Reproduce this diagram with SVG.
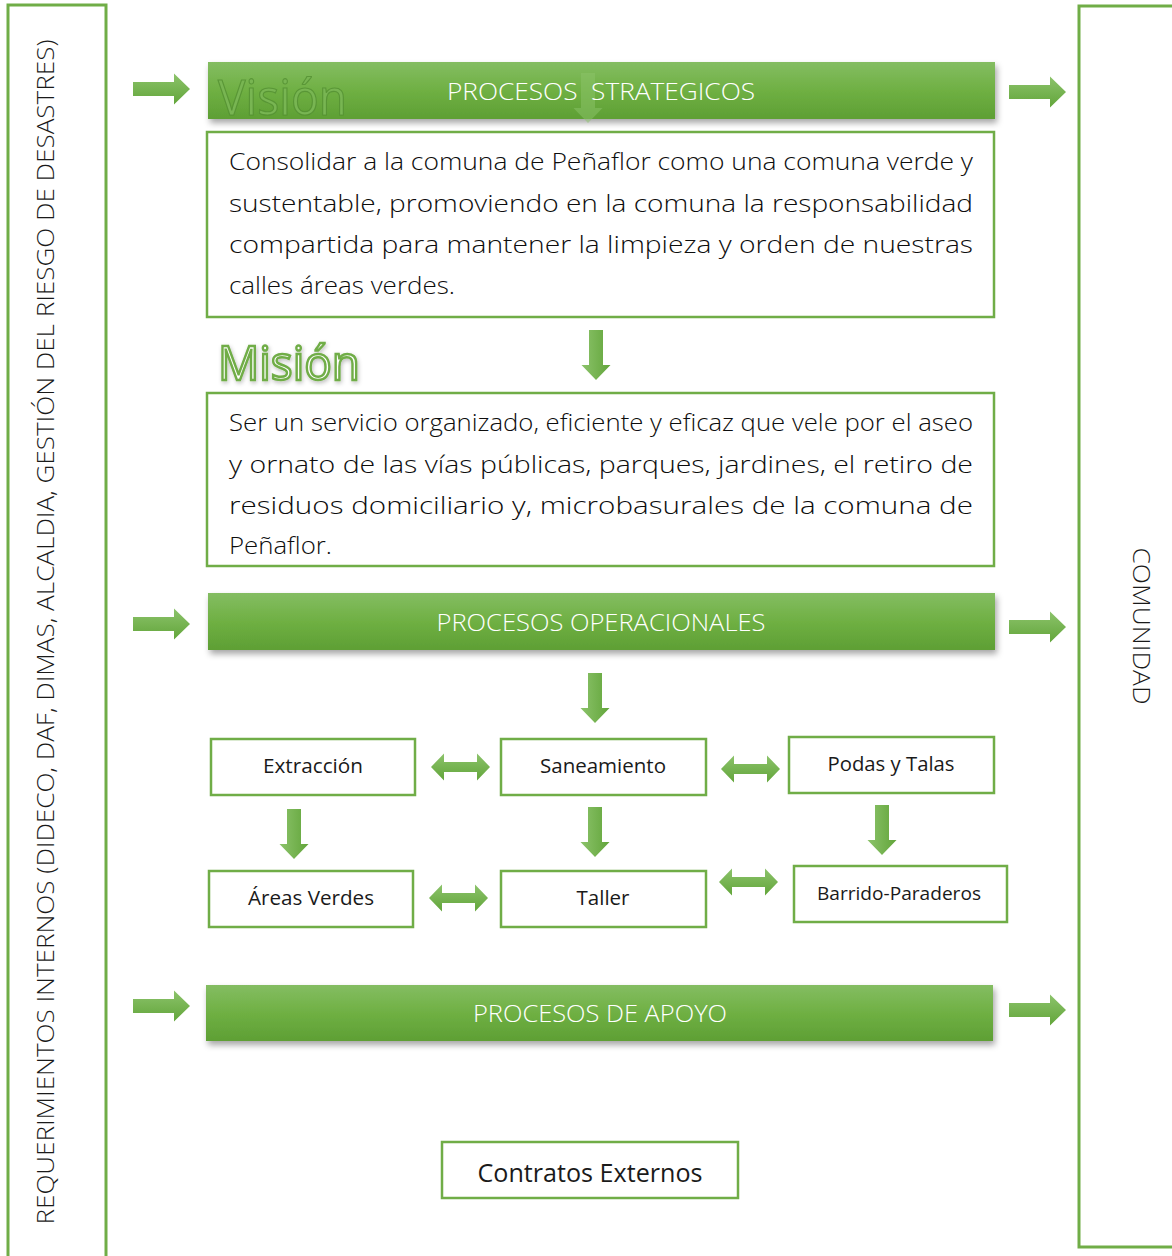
<svg xmlns="http://www.w3.org/2000/svg" width="1172" height="1256" viewBox="0 0 1172 1256">
<style>
.frame{fill:none;stroke:#70AD47;stroke-width:3}
.box{fill:#fff;stroke:#70AD47;stroke-width:2.5}
.t{font-family:"Open Sans","Liberation Sans",sans-serif;font-weight:300;fill:#1a1a1a}
.bt{font-family:"Open Sans","Liberation Sans",sans-serif;font-weight:300;fill:#fff;font-size:24px;text-anchor:middle;white-space:pre}
.lbl{font-family:"Open Sans","Liberation Sans",sans-serif;fill:#1a1a1a;font-size:20px;text-anchor:middle}
.para{font-family:"Open Sans","Liberation Sans",sans-serif;font-weight:300;fill:#0d0d0d;font-size:23px}
.bar{fill:url(#barG);filter:url(#sh)}
.arr{fill:url(#arrG)}
.darr{fill:url(#darrG)}
</style>
<defs>
<linearGradient id="barG" x1="0" y1="0" x2="0" y2="1">
<stop offset="0" stop-color="#84BD62"/>
<stop offset="0.5" stop-color="#6FB043"/>
<stop offset="1" stop-color="#5E9F34"/>
</linearGradient>
<linearGradient id="arrG" x1="0" y1="0" x2="0" y2="1">
<stop offset="0" stop-color="#8CC36B"/>
<stop offset="1" stop-color="#62A53A"/>
</linearGradient>
<linearGradient id="darrG" x1="0" y1="0" x2="1" y2="0">
<stop offset="0" stop-color="#8CC36B"/>
<stop offset="1" stop-color="#62A53A"/>
</linearGradient>
<filter id="sh" x="-5%" y="-30%" width="110%" height="170%">
<feDropShadow dx="2" dy="4" stdDeviation="3" flood-color="#000" flood-opacity="0.35"/>
</filter>
<filter id="glow" x="-10%" y="-20%" width="120%" height="140%">
<feGaussianBlur in="SourceAlpha" stdDeviation="2" result="b"/>
<feFlood flood-color="#000" flood-opacity="0.25"/>
<feComposite in2="b" operator="in" result="s"/>
<feOffset dx="1" dy="2"/>
<feMerge><feMergeNode/><feMergeNode in="SourceGraphic"/></feMerge>
</filter>
<path id="ra" d="M0,-7 H41 V-15.5 L57,0 L41,15.5 V7 H0 Z"/>
<path id="da" d="M-7,0 V35 H-14.5 L0,50 L14.5,35 H7 V0 Z"/>
<path id="ha" d="M0,0 L13,-13.5 V-5 H46 V-13.5 L59,0 L46,13.5 V5 H13 V13.5 Z"/>
</defs>

<g id="left-frame">
<rect class="frame" x="8" y="5" width="98" height="1270"/>
<text class="t" style="font-size:24px" text-anchor="middle" transform="translate(54,632) rotate(-90)" textLength="1185" lengthAdjust="spacingAndGlyphs">REQUERIMIENTOS INTERNOS (DIDECO, DAF, DIMAS, ALCALDIA, GESTIÓN DEL RIESGO DE DESASTRES)</text>
</g>
<g id="right-frame">
<rect class="frame" x="1079" y="6" width="130" height="1241"/>
<text class="t" style="font-size:24px" text-anchor="middle" transform="translate(1133,626) rotate(90)" textLength="157" lengthAdjust="spacingAndGlyphs">COMUNIDAD</text>
</g>

<g id="bar-estrategicos">
<rect class="bar" x="208" y="62" width="787" height="57"/>
<text x="218" y="115" font-family="Open Sans, Liberation Sans, sans-serif" font-size="50" fill="#78B552" stroke="#4F8A2E" stroke-width="1.2" stroke-opacity="0.7" textLength="129" lengthAdjust="spacingAndGlyphs">Visión</text>
<use href="#da" x="588" y="73" fill="#8CC46A" opacity="0.5"/>
<text class="bt" x="601" y="100" textLength="308" lengthAdjust="spacingAndGlyphs">PROCESOS  STRATEGICOS</text>
</g>

<g id="vision-box">
<rect class="box" x="207" y="132" width="787" height="185"/>
<text class="para" x="229" y="170" textLength="744" lengthAdjust="spacingAndGlyphs">Consolidar a la comuna de Peñaflor como una comuna verde y</text>
<text class="para" x="229" y="212" textLength="744" lengthAdjust="spacingAndGlyphs">sustentable, promoviendo en la comuna la responsabilidad</text>
<text class="para" x="229" y="253" textLength="744" lengthAdjust="spacingAndGlyphs">compartida para mantener la limpieza y orden de nuestras</text>
<text class="para" x="229" y="294" textLength="226" lengthAdjust="spacingAndGlyphs">calles áreas verdes.</text>
</g>

<g id="mision-title" filter="url(#glow)">
<text x="218" y="380" font-family="Open Sans, Liberation Sans, sans-serif" font-size="48" fill="#fff" stroke="#70AD47" stroke-width="2.5" textLength="142" lengthAdjust="spacingAndGlyphs">Misión</text>
</g>

<g id="mision-box">
<rect class="box" x="207" y="393" width="787" height="173"/>
<text class="para" x="229" y="431" textLength="744" lengthAdjust="spacingAndGlyphs">Ser un servicio organizado, eficiente y eficaz que vele por el aseo</text>
<text class="para" x="229" y="473" textLength="744" lengthAdjust="spacingAndGlyphs">y ornato de las vías públicas, parques, jardines, el retiro de</text>
<text class="para" x="229" y="514" textLength="744" lengthAdjust="spacingAndGlyphs">residuos domiciliario y, microbasurales de la comuna de</text>
<text class="para" x="229" y="554" textLength="103" lengthAdjust="spacingAndGlyphs">Peñaflor.</text>
</g>

<g id="bar-operacionales">
<rect class="bar" x="208" y="593" width="787" height="57"/>
<text class="bt" x="601" y="631" textLength="329" lengthAdjust="spacingAndGlyphs">PROCESOS OPERACIONALES</text>
</g>

<g id="extraccion"><rect class="box" x="211" y="739" width="204" height="56"/><text class="lbl" x="313" y="773" textLength="100" lengthAdjust="spacingAndGlyphs">Extracción</text></g>
<g id="saneamiento"><rect class="box" x="501" y="739" width="205" height="56"/><text class="lbl" x="603" y="773" textLength="126" lengthAdjust="spacingAndGlyphs">Saneamiento</text></g>
<g id="podas"><rect class="box" x="789" y="737" width="205" height="56"/><text class="lbl" x="891" y="771" textLength="127" lengthAdjust="spacingAndGlyphs">Podas y Talas</text></g>
<g id="areas-verdes"><rect class="box" x="209" y="871" width="204" height="56"/><text class="lbl" x="311" y="905" textLength="126" lengthAdjust="spacingAndGlyphs">Áreas Verdes</text></g>
<g id="taller"><rect class="box" x="501" y="871" width="205" height="56"/><text class="lbl" x="603" y="905" textLength="53" lengthAdjust="spacingAndGlyphs">Taller</text></g>
<g id="barrido"><rect class="box" x="794" y="866" width="213" height="56"/><text class="lbl" x="899" y="900" style="font-size:19px" textLength="164" lengthAdjust="spacingAndGlyphs">Barrido-Paraderos</text></g>

<g id="bar-apoyo">
<rect class="bar" x="206" y="985" width="787" height="56"/>
<text class="bt" x="600" y="1022" textLength="254" lengthAdjust="spacingAndGlyphs">PROCESOS DE APOYO</text>
</g>

<g id="contratos"><rect class="box" x="442" y="1142" width="296" height="56"/><text class="lbl" x="590" y="1182" style="font-size:26px" textLength="225" lengthAdjust="spacingAndGlyphs">Contratos Externos</text></g>

<g id="connectors">
<use href="#ra" class="arr" x="133" y="89"/>
<use href="#ra" class="arr" x="1009" y="92"/>
<use href="#ra" class="arr" x="133" y="624"/>
<use href="#ra" class="arr" x="1009" y="627"/>
<use href="#ra" class="arr" x="133" y="1006"/>
<use href="#ra" class="arr" x="1009" y="1010"/>
<use href="#da" class="darr" x="596" y="330"/>
<use href="#da" class="darr" x="595" y="673"/>
<use href="#da" class="darr" x="294" y="809"/>
<use href="#da" class="darr" x="595" y="807"/>
<use href="#da" class="darr" x="882" y="805"/>
<use href="#ha" class="arr" x="431" y="767"/>
<use href="#ha" class="arr" x="721" y="769"/>
<use href="#ha" class="arr" x="429" y="898"/>
<use href="#ha" class="arr" x="719" y="882"/>
</g>
</svg>
